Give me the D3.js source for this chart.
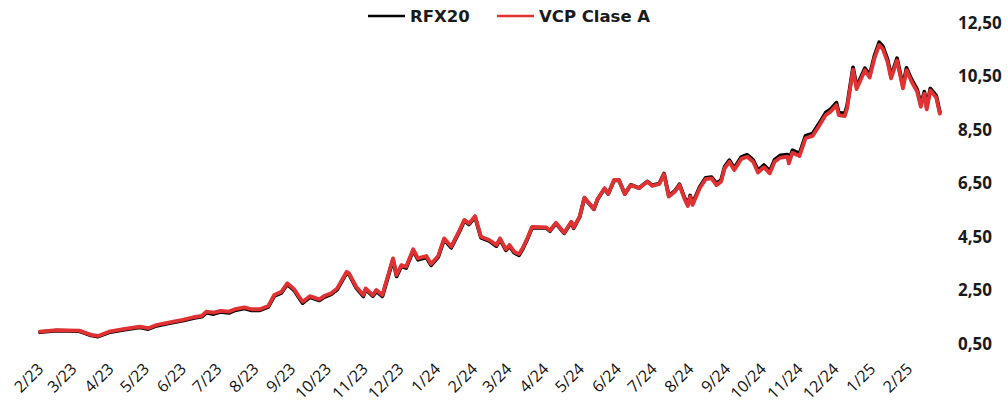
<!DOCTYPE html>
<html>
<head>
<meta charset="utf-8">
<script src="https://cdn.jsdelivr.net/npm/d3@7"></script>
<style>
  body { margin: 0; background: #fff; }
  svg { display: block; font-family: "Open Sans", sans-serif; }
</style>
</head>
<body>
<svg id="canvas" width="1008" height="405"></svg>
<script>
// data
var seriesNames = ["RFX20", "VCP Clase A"];
var seriesColors = ["#000000", "#e03232"];

var dates = [
  "2023-02-01","2023-02-15","2023-03-06","2023-03-16","2023-03-22","2023-03-31","2023-04-12","2023-04-26","2023-05-03","2023-05-10",
  "2023-05-21","2023-06-01","2023-06-10","2023-06-17","2023-06-21","2023-06-27","2023-07-03","2023-07-10","2023-07-15","2023-07-23",
  "2023-07-29","2023-08-05","2023-08-12","2023-08-17","2023-08-23","2023-08-28","2023-09-03","2023-09-06","2023-09-10","2023-09-16",
  "2023-09-24","2023-09-28","2023-10-04","2023-10-09","2023-10-17","2023-10-19","2023-10-25","2023-10-31","2023-11-02","2023-11-08",
  "2023-11-11","2023-11-16","2023-11-25","2023-11-28","2023-12-02","2023-12-06","2023-12-12","2023-12-16","2023-12-23","2023-12-27",
  "2024-01-02","2024-01-07","2024-01-13","2024-01-20","2024-01-24","2024-01-28","2024-02-02","2024-02-07","2024-02-14","2024-02-20",
  "2024-02-23","2024-02-28","2024-03-02","2024-03-06","2024-03-10","2024-03-13","2024-03-17","2024-03-21","2024-04-02","2024-04-05",
  "2024-04-10","2024-04-17","2024-04-23","2024-04-25","2024-04-30","2024-05-04","2024-05-12","2024-05-15","2024-05-21","2024-05-24",
  "2024-05-29","2024-06-02","2024-06-07","2024-06-12","2024-06-19","2024-06-26","2024-06-30","2024-07-06","2024-07-10","2024-07-14",
  "2024-07-19","2024-07-23","2024-07-27","2024-07-30","2024-08-01","2024-08-03","2024-08-09","2024-08-14","2024-08-19","2024-08-23",
  "2024-08-27","2024-08-30","2024-09-03","2024-09-07","2024-09-13","2024-09-18","2024-09-23","2024-09-27","2024-10-02","2024-10-07",
  "2024-10-11","2024-10-16","2024-10-22","2024-10-23","2024-10-26","2024-11-01","2024-11-06","2024-11-12","2024-11-17","2024-11-23",
  "2024-11-27","2024-12-02","2024-12-04","2024-12-09","2024-12-11","2024-12-16","2024-12-19","2024-12-26","2024-12-30","2025-01-03",
  "2025-01-07","2025-01-10","2025-01-14","2025-01-17","2025-01-22","2025-01-27","2025-01-30","2025-02-03","2025-02-08","2025-02-11",
  "2025-02-14","2025-02-16","2025-02-19","2025-02-24","2025-02-27"
];

var rfx20 = [
  0.94,1.00,0.98,0.82,0.78,0.93,1.03,1.12,1.06,1.18,
  1.28,1.37,1.47,1.52,1.67,1.62,1.70,1.66,1.76,1.83,
  1.76,1.76,1.88,2.29,2.41,2.73,2.50,2.29,2.03,2.25,
  2.13,2.25,2.36,2.54,3.16,3.10,2.60,2.28,2.54,2.29,
  2.47,2.28,3.65,3.03,3.41,3.34,4.00,3.65,3.74,3.44,
  3.75,4.41,4.10,4.72,5.11,4.97,5.25,4.47,4.35,4.16,
  4.41,4.00,4.16,3.91,3.82,4.04,4.42,4.85,4.84,4.72,
  5.01,4.64,5.05,4.83,5.25,5.96,5.54,5.90,6.31,6.11,
  6.62,6.63,6.11,6.45,6.33,6.58,6.43,6.50,6.87,6.04,
  6.22,6.47,5.99,5.70,6.05,5.75,6.37,6.71,6.74,6.50,
  6.63,7.13,7.37,7.07,7.49,7.57,7.38,6.99,7.19,6.96,
  7.39,7.55,7.58,7.34,7.74,7.62,8.28,8.37,8.71,9.15,
  9.27,9.52,9.15,9.11,9.40,10.84,10.12,10.81,10.55,11.27,
  11.78,11.63,11.14,10.51,11.18,10.14,10.82,10.41,10.01,9.45,
  9.93,9.35,10.05,9.78,9.17
];

var vcpClaseA = [
  0.96,1.02,1.00,0.84,0.80,0.96,1.06,1.15,1.09,1.21,
  1.31,1.40,1.50,1.55,1.71,1.67,1.74,1.71,1.80,1.87,
  1.80,1.80,1.92,2.33,2.45,2.77,2.54,2.33,2.08,2.29,
  2.17,2.29,2.40,2.58,3.20,3.14,2.64,2.33,2.58,2.33,
  2.52,2.33,3.70,3.08,3.45,3.39,4.04,3.70,3.79,3.49,
  3.79,4.45,4.14,4.76,5.14,5.01,5.28,4.51,4.39,4.20,
  4.45,4.04,4.20,3.95,3.86,4.08,4.45,4.88,4.86,4.74,
  5.03,4.66,5.07,4.85,5.26,5.97,5.55,5.91,6.32,6.11,
  6.63,6.63,6.11,6.44,6.32,6.57,6.41,6.48,6.85,6.01,
  6.19,6.44,5.95,5.66,6.01,5.70,6.32,6.66,6.69,6.44,
  6.57,7.07,7.31,7.00,7.42,7.50,7.31,6.91,7.11,6.88,
  7.31,7.47,7.50,7.25,7.65,7.53,8.19,8.28,8.62,9.06,
  9.18,9.43,9.06,9.02,9.31,10.76,10.03,10.73,10.46,11.18,
  11.68,11.53,11.05,10.43,11.10,10.06,10.74,10.33,9.93,9.37,
  9.86,9.27,9.98,9.71,9.11
];

var monthLabels = ["2/23","3/23","4/23","5/23","6/23","7/23","8/23","9/23","10/23","11/23","12/23","1/24",
  "2/24","3/24","4/24","5/24","6/24","7/24","8/24","9/24","10/24","11/24","12/24","1/25","2/25"];
var yTicks = [0.5, 2.5, 4.5, 6.5, 8.5, 10.5, 12.5];

var svg = d3.select("#canvas"),
  width = +svg.attr("width"),
  height = +svg.attr("height");

var parseDay = d3.timeParse("%Y-%m-%d"),
  parseMonth = d3.timeParse("%m/%y");

var x = d3.scaleTime()
  .domain([parseDay("2023-02-01"), parseDay("2025-02-28")])
  .range([40, 941]);

var y = d3.scaleLinear()
  .domain([0.5, 12.5])
  .range([344, 23]);

var esFormat = d3.formatLocale({decimal: ",", thousands: ".", grouping: [3], currency: ["$", ""]}).format(".2f");

var line = d3.line()
  .x(function(d) { return x(d.date); })
  .y(function(d) { return y(d.value); });

var series = [rfx20, vcpClaseA].map(function(vals, k) {
  return {
    name: seriesNames[k],
    color: seriesColors[k],
    values: vals.map(function(v, i) { return {date: parseDay(dates[i]), value: v}; })
  };
});

svg.selectAll(".series")
  .data(series)
  .enter().append("path")
  .attr("class", "series")
  .attr("d", function(d) { return line(d.values); })
  .attr("fill", "none")
  .attr("stroke", function(d) { return d.color; })
  .attr("stroke-width", 3.8)
  .attr("stroke-linejoin", "round")
  .attr("stroke-linecap", "round");

// x axis, rotated month labels
var xAxis = svg.append("g")
  .attr("transform", "translate(0,370)")
  .call(d3.axisBottom(x)
    .tickValues(monthLabels.map(function(m) { return parseMonth(m); }))
    .tickFormat(function(d, i) { return monthLabels[i]; })
    .tickSize(0));
xAxis.select(".domain").remove();
xAxis.selectAll("text")
  .attr("x", 0)
  .attr("y", 0)
  .attr("dy", 0)
  .attr("transform", "translate(4,0) rotate(-45)")
  .style("text-anchor", "end")
  .style("font-size", "16px")
  .style("font-family", "'Open Sans', sans-serif")
  .style("font-weight", 500)
  .attr("fill", "#111");

// y axis on the right
var yAxis = svg.append("g")
  .attr("transform", "translate(958,0)")
  .call(d3.axisRight(y)
    .tickValues(yTicks)
    .tickFormat(esFormat)
    .tickSize(0)
    .tickPadding(0));
yAxis.select(".domain").remove();
yAxis.selectAll("text")
  .style("font-size", "17px")
  .style("font-family", "'Open Sans', sans-serif")
  .style("font-weight", 700)
  .attr("fill", "#1a1a1a");

// legend
var legendX = [368, 497];
var legend = svg.selectAll(".legend")
  .data(series)
  .enter().append("g")
  .attr("class", "legend")
  .attr("transform", function(d, i) { return "translate(" + legendX[i] + ",16)"; });

legend.append("line")
  .attr("x1", 0)
  .attr("x2", 37)
  .attr("stroke", function(d) { return d.color; })
  .attr("stroke-width", 2.5);

legend.append("text")
  .attr("x", 42)
  .attr("dy", "0.36em")
  .style("font-size", "16.5px")
  .style("font-family", "'DejaVu Sans', sans-serif")
  .style("font-weight", 700)
  .attr("fill", "#1a1a1a")
  .text(function(d) { return d.name; });
</script>
</body>
</html>
